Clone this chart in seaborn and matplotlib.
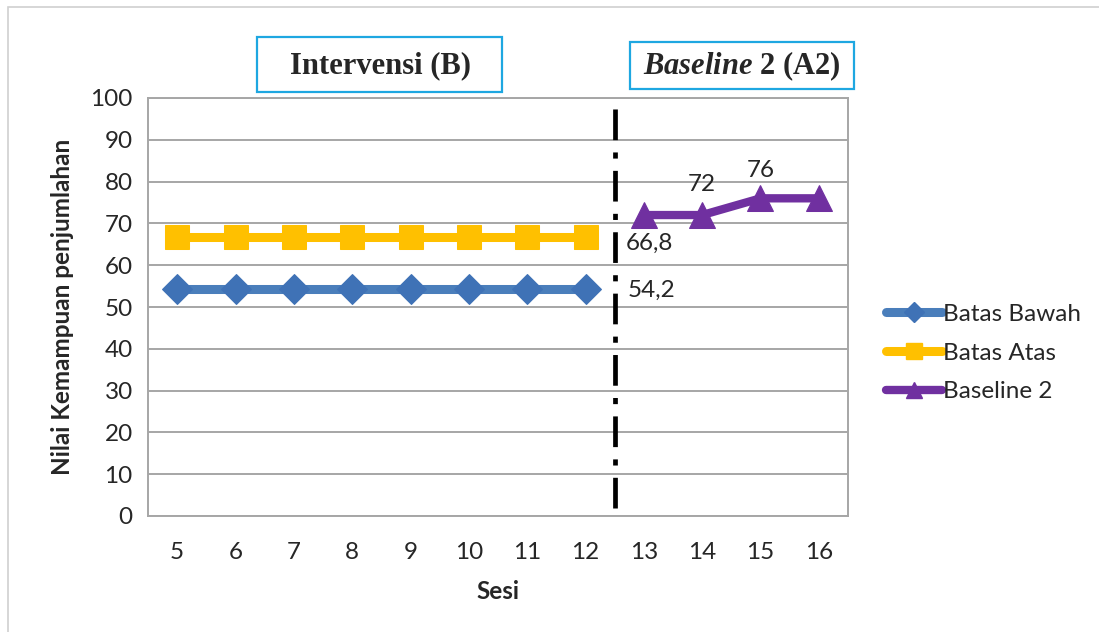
import numpy as np
import pandas as pd
import matplotlib
matplotlib.use("Agg")
import matplotlib.pyplot as plt
import seaborn as sns
from matplotlib.patches import Rectangle
from matplotlib.lines import Line2D

# data
sesi = [5, 6, 7, 8, 9, 10, 11, 12, 13, 14, 15, 16]
sesi_b = [5, 6, 7, 8, 9, 10, 11, 12]
sesi_a2 = [13, 14, 15, 16]
batas_bawah = [54.2] * 8
batas_atas = [66.8] * 8
baseline_2 = [72, 72, 76, 76]

blue = "#4A7EBB"
blue_dark = "#3F72B6"
yellow = "#FFC000"
purple = "#7030A0"
grid_c = "#A6A6A6"
fs = 17.5

sns.set_style("white")
plt.rcParams["font.family"] = ["Lato", "DejaVu Sans"]
plt.rcParams["mathtext.fontset"] = "custom"
plt.rcParams["mathtext.it"] = "Liberation Serif:italic:bold"
plt.rcParams["mathtext.rm"] = "Liberation Serif:bold"

fig = plt.figure(figsize=(10.99, 6.32), dpi=100)
ax = fig.add_axes([148 / 1099, 1 - 516 / 632, 700 / 1099, 418 / 632])

pos = {s: i for i, s in enumerate(sesi)}
df_b = pd.DataFrame({"x": [pos[s] for s in sesi_b], "bawah": batas_bawah, "atas": batas_atas})
df_a = pd.DataFrame({"x": [pos[s] for s in sesi_a2], "base": baseline_2})

sns.lineplot(data=df_b, x="x", y="bawah", ax=ax, color=blue, linewidth=6.5,
             marker="D", markersize=15, markerfacecolor=blue_dark, markeredgecolor=blue_dark,
             solid_capstyle="round", zorder=3)
sns.lineplot(data=df_b, x="x", y="atas", ax=ax, color=yellow, linewidth=6.5,
             marker="s", markersize=17, markeredgecolor=yellow,
             solid_capstyle="round", zorder=3)
sns.lineplot(data=df_a, x="x", y="base", ax=ax, color=purple, linewidth=6,
             marker="^", markersize=19, markeredgecolor=purple,
             solid_capstyle="round", zorder=3)

# phase change line
ax.axvline(7.5, ymin=0.02, ymax=0.985, color="black", linewidth=3.4,
           linestyle=(0, (6.5, 2.6, 1.3, 2.6)), dash_capstyle="butt", zorder=4)

# data labels
ax.text(7.69, 65.3, "66,8", ha="left", va="center", fontsize=fs)
ax.text(7.72, 54.1, "54,2", ha="left", va="center", fontsize=fs)
ax.text(9, 79.3, "72", ha="center", va="center", fontsize=fs)
ax.text(10, 82.6, "76", ha="center", va="center", fontsize=fs)

ax.set_xlim(-0.5, len(sesi) - 0.5)
ax.set_ylim(0, 100)
ax.set_xticks(range(len(sesi)))
ax.set_xticklabels([str(s) for s in sesi])
ax.set_yticks(np.arange(0, 101, 10))
ax.tick_params(axis="both", length=0, labelsize=fs)
ax.tick_params(axis="x", pad=19)
ax.tick_params(axis="y", pad=11)
ax.grid(axis="y", color=grid_c, linewidth=1.4)
ax.set_axisbelow(True)
for sp in ax.spines.values():
    sp.set_color(grid_c)
    sp.set_linewidth(1.4)

ax.set_xlabel("Sesi", fontsize=fs, fontweight="bold", labelpad=12)
ax.set_ylabel("Nilai Kemampuan penjumlahan", fontsize=fs, fontweight="bold", labelpad=12)

# legend
handles = [
    Line2D([], [], color=blue, lw=6.5, marker="D", markersize=10, markerfacecolor=blue_dark,
           markeredgecolor=blue_dark, solid_capstyle="round"),
    Line2D([], [], color=yellow, lw=6.5, marker="s", markersize=11, solid_capstyle="round"),
    Line2D([], [], color=purple, lw=6, marker="^", markersize=12, solid_capstyle="round"),
]
fig.legend(handles, ["Batas Bawah", "Batas Atas", "Baseline 2"],
           loc="center left", bbox_to_anchor=(874 / 1099, 1 - 353 / 632),
           frameon=False, fontsize=fs, handlelength=2.3, handletextpad=0.05,
           labelspacing=0.72, borderpad=0)

# phase title boxes
box_c = "#1EA7E1"
fig.add_artist(Rectangle((257 / 1099, 1 - 92 / 632), 245 / 1099, 55 / 632,
                         transform=fig.transFigure, fill=False, ec=box_c, lw=1.6))
fig.add_artist(Rectangle((630 / 1099, 1 - 89 / 632), 224 / 1099, 47 / 632,
                         transform=fig.transFigure, fill=False, ec=box_c, lw=1.6))
fig.text(380 / 1099, 1 - 66 / 632, "Intervensi (B)", family="Liberation Serif",
         fontweight="bold", fontsize=22, ha="center", va="center")
fig.text(742 / 1099, 1 - 66 / 632, r"$\it{Baseline}$ 2 (A2)", family="Liberation Serif",
         fontweight="bold", fontsize=22, ha="center", va="center")

# outer frame
fig.add_artist(Rectangle((8 / 1099, -0.1), 1.2, 1.1 - 7 / 632, transform=fig.transFigure,
                         fill=False, ec="#D0D0D0", lw=1.2))

fig.savefig("out.png", dpi=100)
